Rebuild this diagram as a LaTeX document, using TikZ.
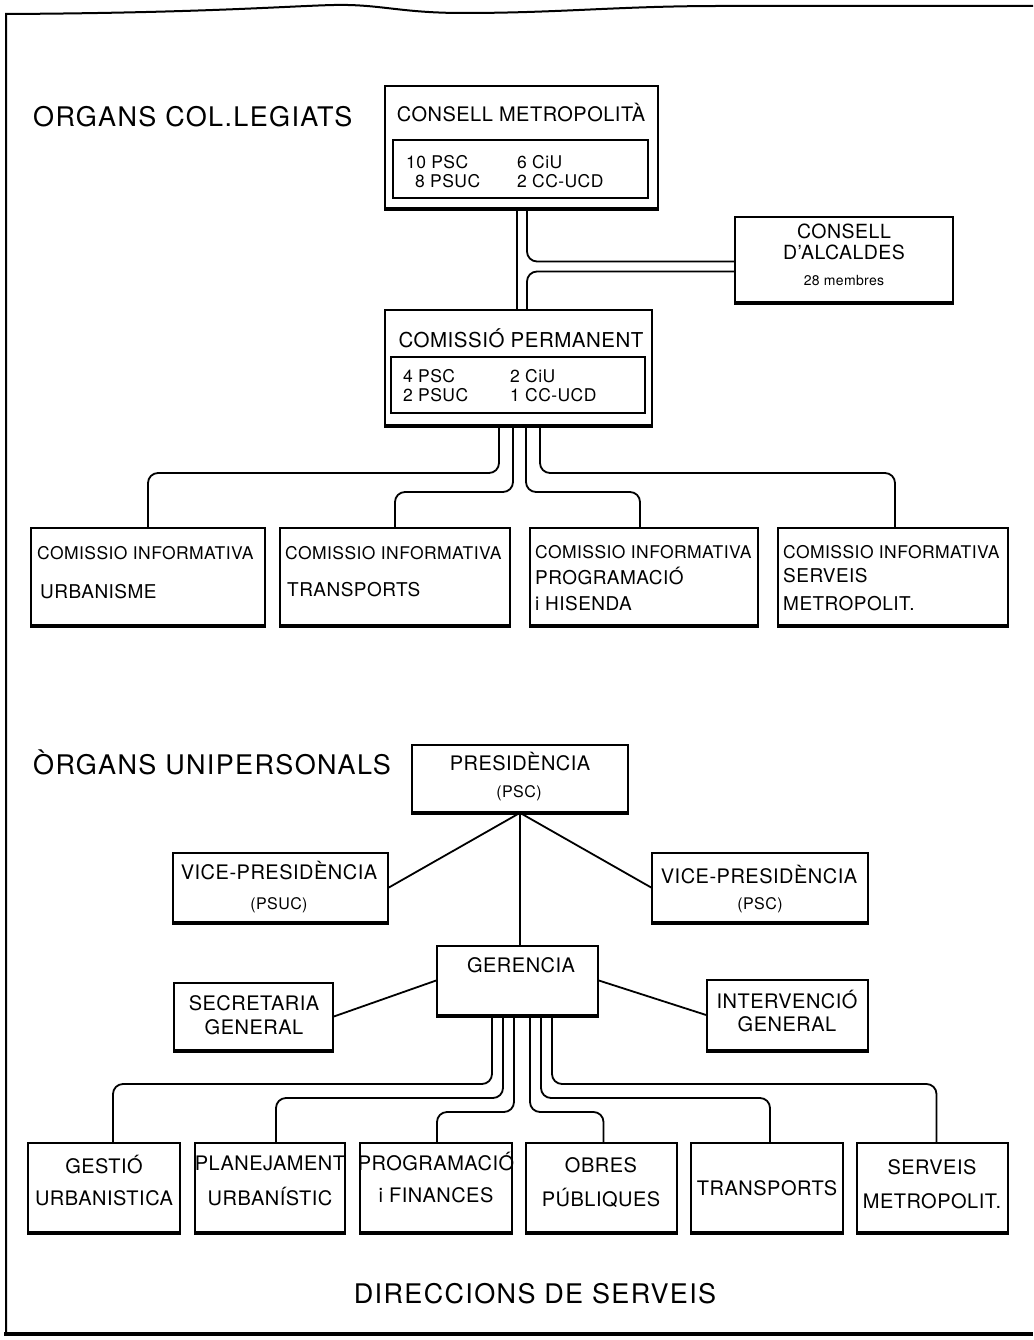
\documentclass[tikz,border=0pt]{standalone}
\usepackage{fontspec}
\setmainfont{TeX Gyre Heros}[LetterSpace=2.5]
\newfontfamily\headfont{TeX Gyre Heros}[LetterSpace=5]
\usetikzlibrary{calc,fit}
\newcommand\fs[1]{\fontsize{#1bp}{#1bp}\selectfont}
\begin{document}
\begin{tikzpicture}[x=1bp,y=-1bp,
  box/.style={draw, line width=1.7bp, inner sep=0pt},
  innerbox/.style={draw, line width=1.3bp, inner sep=0pt},
  conn/.style={line width=1.8bp, rounded corners=10bp},
  edge/.style={line width=4bp},
  txt/.style={inner sep=0pt, font=\fs{20}},
  small/.style={inner sep=0pt, font=\fs{17.5}},
  head/.style={inner sep=0pt, font=\headfont\fs{27}}]
\useasboundingbox (0,0) rectangle (1033,1340);
% frame
\draw[line width=2bp] (6,1334) -- (6,14) .. controls (200,13) and (290,6) .. (334,5)
  .. controls (380,4) and (400,13) .. (463,13) .. controls (560,13) and (620,6) .. (720,6) -- (1033,6);
\draw[line width=4bp] (4,1334) -- (1033,1334);

% headings
\node[head, anchor=west] (h1) at (33,117) {ORGANS COL.LEGIATS};
\node[head, anchor=west] (h2) at (33,762) {ÒRGANS UNIPERSONALS};
\node[head] (h3) at (535,1294) {DIRECCIONS DE SERVEIS};

% Consell Metropolita
\node[box, fit={(385,86) (658,208)}] (cm) {};
\node[txt] (cmt) at (521,113) {CONSELL METROPOLITÀ};
\node[innerbox, fit={(393,140) (648,198)}] (cmi) {};
\node[small, anchor=west] (cm1) at (406,162) {10 PSC};
\node[small, anchor=west] (cm2) at (415,181) {8 PSUC};
\node[small, anchor=west] (cm3) at (517,162) {6 CiU};
\node[small, anchor=west] (cm4) at (517,181) {2 CC-UCD};

% Consell d'Alcaldes
\node[box, fit={(735,217) (953,302)}] (cd) {};
\node[txt, font=\fs{19.5}] (cd1) at (844,231) {CONSELL};
\node[txt, font=\fs{19.5}] (cd2) at (844,252) {D'ALCALDES};
\node[txt, font=\fs{14}] (cd3) at (844,281) {28 membres};

% Comissio Permanent
\node[box, fit={(385,310) (652,425)}] (cp) {};
\node[txt, font=\fs{20.5}] (cpt) at (521,338) {COMISSIÓ PERMANENT};
\node[innerbox, fit={(391,357) (645,413)}] (cpi) {};
\node[small, anchor=west] (cp1) at (403,376) {4 PSC};
\node[small, anchor=west] (cp2) at (403,395) {2 PSUC};
\node[small, anchor=west] (cp3) at (510,376) {2 CiU};
\node[small, anchor=west] (cp4) at (510,395) {1 CC-UCD};

% Comissions informatives
\node[box, fit={(31,528) (265,625)}] (ci1) {};
\node[small, anchor=west] (ci1a) at (37,553) {COMISSIO INFORMATIVA};
\node[txt, font=\fs{19}, anchor=west] (ci1b) at (40,592) {URBANISME};
\node[box, fit={(280,528) (510,625)}] (ci2) {};
\node[small, anchor=west] (ci2a) at (285,553) {COMISSIO INFORMATIVA};
\node[txt, font=\fs{19}, anchor=west] (ci2b) at (287,590) {TRANSPORTS};
\node[box, fit={(530,528) (758,625)}] (ci3) {};
\node[small, anchor=west] (ci3a) at (535,552) {COMISSIO INFORMATIVA};
\node[txt, font=\fs{19}, anchor=west] (ci3b) at (535,576) {PROGRAMACIÓ};
\node[txt, font=\fs{19}, anchor=west] (ci3c) at (535,604) {i HISENDA};
\node[box, fit={(778,528) (1008,625)}] (ci4) {};
\node[small, anchor=west] (ci4a) at (783,552) {COMISSIO INFORMATIVA};
\node[txt, font=\fs{19}, anchor=west] (ci4b) at (783,576) {SERVEIS};
\node[txt, font=\fs{19}, anchor=west] (ci4c) at (783,604) {METROPOLIT.};

% Organs unipersonals
\node[box, fit={(412,745) (628,812)}] (pres) {};
\node[txt] (pres1) at (520,762) {PRESIDÈNCIA};
\node[txt, font=\fs{16}] (pres2) at (519,793) {(PSC)};
\node[box, fit={(173,853) (388,922)}] (vpl) {};
\node[txt] (vpl1) at (279,871) {VICE-PRESIDÈNCIA};
\node[txt, font=\fs{16}] (vpl2) at (279,905) {(PSUC)};
\node[box, fit={(652,853) (868,922)}] (vpr) {};
\node[txt] (vpr1) at (759,875) {VICE-PRESIDÈNCIA};
\node[txt, font=\fs{16}] (vpr2) at (760,905) {(PSC)};
\node[box, fit={(437,946) (598,1015)}] (ger) {};
\node[txt] (ger1) at (521,965) {GERENCIA};
\node[box, fit={(174,983) (333,1050)}] (sec) {};
\node[txt] (sec1) at (254,1003) {SECRETARIA};
\node[txt] (sec2) at (254,1027) {GENERAL};
\node[box, fit={(707,980) (868,1050)}] (int) {};
\node[txt] (int1) at (787,1000) {INTERVENCIÓ};
\node[txt] (int2) at (787,1024) {GENERAL};

% Direccions de serveis
\node[box, fit={(28,1143) (180,1232)}] (b1) {};
\node[txt] (b1a) at (104,1165) {GESTIÓ};
\node[txt] (b1b) at (104,1198) {URBANISTICA};
\node[box, fit={(195,1143) (345,1232)}] (b2) {};
\node[txt] (b2a) at (270,1163) {PLANEJAMENT};
\node[txt] (b2b) at (270,1197) {URBANÍSTIC};
\node[box, fit={(360,1143) (512,1232)}] (b3) {};
\node[txt] (b3a) at (436,1162) {PROGRAMACIÓ};
\node[txt] (b3b) at (436,1195) {i FINANCES};
\node[box, fit={(526,1143) (677,1232)}] (b4) {};
\node[txt] (b4a) at (601,1165) {OBRES};
\node[txt] (b4b) at (601,1198) {PÚBLIQUES};
\node[box, fit={(691,1143) (843,1232)}] (b5) {};
\node[txt] (b5a) at (767,1188) {TRANSPORTS};
\node[box, fit={(857,1143) (1008,1232)}] (b6) {};
\node[txt] (b6a) at (932,1167) {SERVEIS};
\node[txt] (b6b) at (932,1201) {METROPOLIT.};

% thick bottom edges
\foreach \n in {cm,cd,cp,ci1,ci2,ci3,ci4,pres,vpl,vpr,ger,sec,int,b1,b2,b3,b4,b5,b6}
  \draw[edge] (\n.south west) -- (\n.south east);

% connectors: Consell Metropolita / Alcaldes / Permanent
\draw[conn] (517,0 |- cm.south) -- (517,0 |- cp.north);
\draw[conn] (527,0 |- cm.south) |- ($(cd.west)+(0,2)$);
\draw[conn] ($(cd.west)+(0,12)$) -| (527,0 |- cp.north);

% Permanent to comissions
\draw[conn] (499,0 |- cp.south) -- (499,473) -| (ci1.north);
\draw[conn] (513,0 |- cp.south) -- (513,492) -| (ci2.north);
\draw[conn] (526,0 |- cp.south) -- (526,492) -| ([xshift=-4bp]ci3.north);
\draw[conn] (540,0 |- cp.south) -- (540,473) -| ([xshift=2bp]ci4.north);

% Presidencia
\draw[line width=1.8bp] (pres.south) -- (vpl.east);
\draw[line width=1.8bp] (pres.south) -- (vpr.west);
\draw[line width=1.8bp] (pres.south) -- (pres.south |- ger.north);
\draw[line width=1.8bp] (ger.west) -- (sec.east);
\draw[line width=1.8bp] (ger.east) -- (int.west);

% Gerencia to direccions
\draw[conn] (492,0 |- ger.south) -- (492,1084) -| ([xshift=9bp]b1.north);
\draw[conn] (503,0 |- ger.south) -- (503,1098) -| ([xshift=6bp]b2.north);
\draw[conn] (514,0 |- ger.south) -- (514,1112) -| ([xshift=1bp]b3.north);
\draw[conn] (530,0 |- ger.south) -- (530,1112) -| ([xshift=2bp]b4.north);
\draw[conn] (541,0 |- ger.south) -- (541,1098) -| ([xshift=3bp]b5.north);
\draw[conn] (552,0 |- ger.south) -- (552,1084) -| ([xshift=4bp]b6.north);
\end{tikzpicture}
\end{document}
